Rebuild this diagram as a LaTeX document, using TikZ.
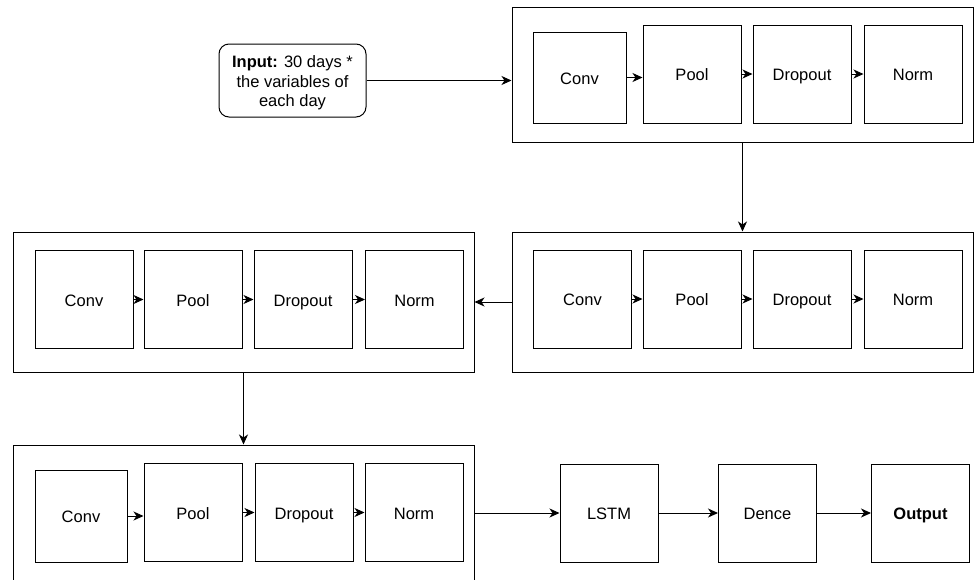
\documentclass[tikz,border=0pt]{standalone}
\usepackage{fontspec}
\setmainfont{Liberation Sans}
\usetikzlibrary{arrows.meta}
\begin{document}
\begin{tikzpicture}[x=1pt,y=-1pt,
  txt/.style={font=\fontsize{16.5}{19.5}\selectfont},
  box/.style={draw, line width=1pt, minimum width=98pt, minimum height=98pt, inner sep=0pt, text height=14pt, text depth=0.2pt, txt},
  outer/.style={draw, line width=1pt, inner sep=0pt, minimum width=461pt},
  arr/.style={line width=1pt, -{Stealth[length=10pt,width=9pt,inset=3pt]}}]
\clip (0,0) rectangle (975,579);
\fill[white] (0,0) rectangle (975,579);
% input
\node[draw, line width=1pt, rounded corners=10pt, minimum width=147pt, minimum height=73pt, inner sep=0pt] (in) at (292.5,80.5) {};
\node[txt, align=center, inner sep=0pt] (intext) at (292.5,83) {\textbf{Input:} 30 days *\\the variables of\\each day};
% block 1
\node[outer, minimum height=135pt] (b1) at (742.5,74.5) {};
\node[box, minimum width=93pt, minimum height=91pt] (c1) at (579.5,77.5) {Conv};
\node[box] (p1) at (692,74) {Pool};
\node[box] (d1) at (802,74) {Dropout};
\node[box] (n1) at (913,74) {Norm};
% block 2
\node[outer, minimum height=140pt] (b2) at (742.5,302) {};
\node[box] (c2) at (582.5,299) {Conv};
\node[box] (p2) at (692,299) {Pool};
\node[box] (d2) at (802,299) {Dropout};
\node[box] (n2) at (913,299) {Norm};
% block 3
\node[outer, minimum height=140pt] (b3) at (243.5,302) {};
\node[box] (c3) at (84,299.5) {Conv};
\node[box] (p3) at (193,299.5) {Pool};
\node[box] (d3) at (303,299.5) {Dropout};
\node[box] (n3) at (414.5,299.5) {Norm};
% block 4 (cut off at bottom)
\node[outer, minimum height=160pt] (b4) at (243.5,525) {};
\node[box, minimum width=92pt, minimum height=92pt] (c4) at (81,516) {Conv};
\node[box] (p4) at (193,512.5) {Pool};
\node[box] (d4) at (304,512.5) {Dropout};
\node[box] (n4) at (414,512.5) {Norm};
% tail
\node[box] (ls) at (609,513) {LSTM};
\node[box] (de) at (767.5,513) {Dence};
\node[box] (ou) at (920.5,513) {\textbf{Output}};
% connectors
\draw[arr] (in.east) -- (in.east -| b1.west);
\draw[arr] (b1.south) -- (b2.north);
\draw[arr] (b2.west) -- (b3.east);
\draw[arr] (b3.south) -- (b4.north);
\draw[arr] (ls.west -| b4.east) -- (ls.west);
\draw[arr] (ls.east) -- (de.west);
\draw[arr] (de.east) -- (ou.west);
\foreach \a/\b in {c1/p1,p1/d1,d1/n1,c2/p2,p2/d2,d2/n2,c3/p3,p3/d3,d3/n3,c4/p4,p4/d4,d4/n4}
  \draw[arr] (\a.east) -- (\a.east -| \b.west);
\end{tikzpicture}
\end{document}
